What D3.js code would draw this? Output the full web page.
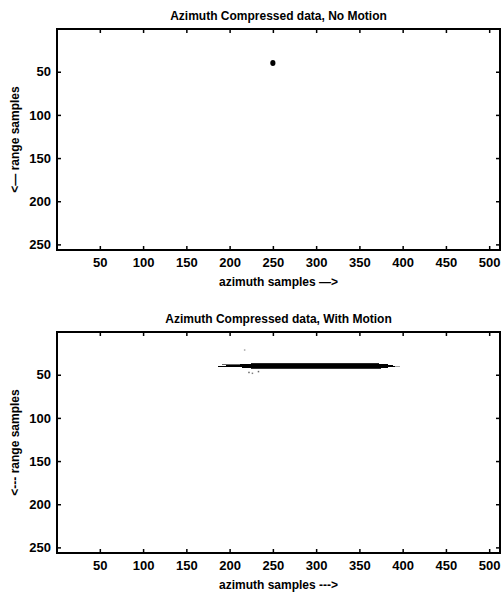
<!DOCTYPE html>
<html>
<head>
<meta charset="utf-8">
<script src="https://cdn.jsdelivr.net/npm/d3@7"></script>
<style>
  body { margin: 0; background: #fff; }
  svg text { font-family: "Liberation Sans", Arial, sans-serif; fill: #000; }
  .tick-label { font-size: 13px; font-weight: bold; }
  .title { font-size: 12px; font-weight: bold; }
  .axis-label { font-size: 12px; font-weight: bold; }
</style>
</head>
<body>
<svg id="chart" width="502" height="596"></svg>
<script>
// axis setup (pixel samples)
var azimuthDomain = [0.5, 512.5];
var rangeDomain = [0.5, 256.5];
var xTicks = [50, 100, 150, 200, 250, 300, 350, 400, 450, 500];
var yTicks = [50, 100, 150, 200, 250];

// panel texts
var titles = ["Azimuth Compressed data, No Motion", "Azimuth Compressed data, With Motion"];
var xLabels = ["azimuth samples \u2014>", "azimuth samples --->"];
var yLabels = ["<\u2014 range samples", "<--- range samples"];

// no motion: single focused point target
var focusedTarget = [{az: 250, rng: 40}];

// with motion: target smeared along azimuth (rows of range, azimuth extent, darkness)
var smearRows = [
  {rng: 37, az0: 225, az1: 372, level: 0.85},
  {rng: 38, az0: 212, az1: 382, level: 1},
  {rng: 39, az0: 196, az1: 388, level: 1},
  {rng: 40, az0: 187, az1: 392, level: 1},
  {rng: 41, az0: 200, az1: 388, level: 1},
  {rng: 42, az0: 215, az1: 383, level: 1},
  {rng: 43, az0: 225, az1: 375, level: 0.8},
  {rng: 38, az0: 192, az1: 212, level: 0.6},
  {rng: 41, az0: 188, az1: 200, level: 0.5},
  {rng: 40, az0: 392, az1: 396, level: 0.35}
];
var specks = [
  {az: 217, rng: 21, level: 0.35},
  {az: 222, rng: 47, level: 0.6},
  {az: 226, rng: 48, level: 0.5},
  {az: 233, rng: 46, level: 0.6}
];

var svg = d3.select("#chart");
var margin = {left: 57, right: 2};
var panelHeight = 221;
var panelTops = [29, 332];

var x = d3.scaleLinear().domain(azimuthDomain).range([margin.left, 502 - margin.right]);
var gray = d3.scaleLinear().domain([0, 1]).range(["#fff", "#000"]);

function drawPanel(i) {
  var top = panelTops[i];
  var y = d3.scaleLinear().domain(rangeDomain).range([top, top + panelHeight]);
  var g = svg.append("g");

  // data
  if (i == 0) {
    g.selectAll(".dot")
      .data(focusedTarget)
      .enter().append("ellipse")
      .attr("cx", function(d) { return x(d.az); })
      .attr("cy", function(d) { return y(d.rng); })
      .attr("rx", 2.6)
      .attr("ry", 3)
      .attr("fill", "#000");
  } else {
    g.selectAll(".smear")
      .data(smearRows)
      .enter().append("rect")
      .attr("shape-rendering", "crispEdges")
      .attr("x", function(d) { return x(d.az0 - 0.5); })
      .attr("y", function(d) { return y(d.rng - 0.5); })
      .attr("width", function(d) { return x(d.az1 + 0.5) - x(d.az0 - 0.5); })
      .attr("height", function(d) { return y(d.rng + 0.5) - y(d.rng - 0.5); })
      .attr("fill", function(d) { return gray(d.level); });
    g.selectAll(".speck")
      .data(specks)
      .enter().append("rect")
      .attr("x", function(d) { return x(d.az - 0.5); })
      .attr("y", function(d) { return y(d.rng - 0.5); })
      .attr("width", 1.5)
      .attr("height", 1.5)
      .attr("fill", function(d) { return gray(d.level); });
  }

  // axes with inward ticks on all sides
  var bottomAxis = d3.axisBottom(x).tickValues(xTicks).tickSizeInner(-4).tickSizeOuter(0).tickPadding(8);
  var topAxis = d3.axisTop(x).tickValues(xTicks).tickSizeInner(-4).tickSizeOuter(0).tickFormat("");
  var leftAxis = d3.axisLeft(y).tickValues(yTicks).tickSizeInner(-4).tickSizeOuter(0).tickPadding(6);
  var rightAxis = d3.axisRight(y).tickValues(yTicks).tickSizeInner(-4).tickSizeOuter(0).tickFormat("");

  var gb = g.append("g").attr("transform", "translate(0," + (top + panelHeight) + ")").call(bottomAxis);
  var gt = g.append("g").attr("transform", "translate(0," + top + ")").call(topAxis);
  var gl = g.append("g").attr("transform", "translate(" + margin.left + ",0)").call(leftAxis);
  var gr = g.append("g").attr("transform", "translate(" + (502 - margin.right) + ",0)").call(rightAxis);

  [gb, gt, gl, gr].forEach(function(a) {
    a.select(".domain").remove();
    a.selectAll("line").attr("stroke", "#000").attr("stroke-width", 1.5);
    a.selectAll("text").attr("class", "tick-label").attr("font-family", null).attr("font-size", null);
  });

  g.append("rect")
    .attr("x", margin.left)
    .attr("y", top)
    .attr("width", 502 - margin.right - margin.left)
    .attr("height", panelHeight)
    .attr("fill", "none")
    .attr("stroke", "#000")
    .attr("stroke-width", 2);

  var cx = (margin.left + 502 - margin.right) / 2;
  g.append("text")
    .attr("class", "title")
    .attr("x", cx)
    .attr("y", top - 9)
    .attr("text-anchor", "middle")
    .text(titles[i]);

  g.append("text")
    .attr("class", "axis-label")
    .attr("x", cx)
    .attr("y", top + panelHeight + 36)
    .attr("text-anchor", "middle")
    .text(xLabels[i]);

  g.append("text")
    .attr("class", "axis-label")
    .attr("transform", "translate(19," + (top + panelHeight / 2) + ") rotate(-90)")
    .attr("text-anchor", "middle")
    .text(yLabels[i]);
}

drawPanel(0);
drawPanel(1);
</script>
</body>
</html>
